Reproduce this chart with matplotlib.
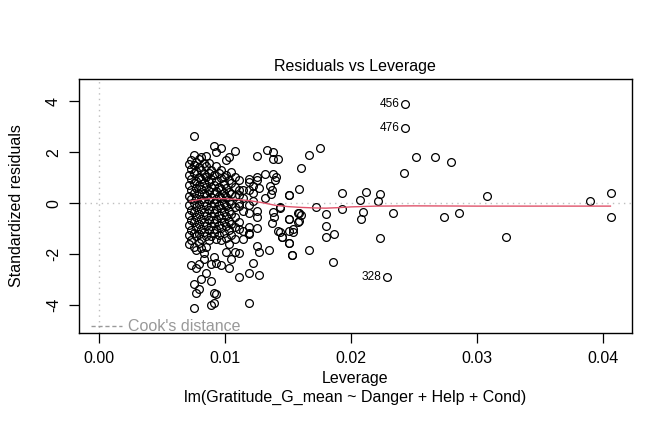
import numpy as np
import matplotlib
matplotlib.use("Agg")
import matplotlib.pyplot as plt

plt.rcParams['font.family'] = ['Liberation Sans', 'DejaVu Sans']

# ---- data ----
# dense leverage columns: (leverage, [standardized residuals])
col_lev = [0.0071, 0.0073, 0.0075, 0.0077, 0.0079, 0.0081, 0.0083, 0.0085,
           0.0087, 0.0089, 0.0091, 0.0093, 0.0095, 0.0097, 0.0099, 0.0101,
           0.0103, 0.0105, 0.0108, 0.0111, 0.0114, 0.0119, 0.0122, 0.0125,
           0.0127]
col_res = [
    [1.55, 1.10, 0.70, 0.30, -0.05, -0.45, -0.85, -1.25, -1.61],
    [1.70, 1.35, 0.95, 0.52, 0.15, -0.25, -0.65, -1.05, -1.44, -2.40],
    [2.65, 1.89, 1.50, 1.18, 0.80, 0.40, 0.02, -0.35, -0.75, -1.15, -1.70, -3.16, -4.12],
    [1.62, 1.25, 0.88, 0.60, 0.22, -0.15, -0.52, -0.92, -1.30, -1.83, -2.55, -3.53],
    [1.74, 1.42, 1.05, 0.70, 0.35, -0.02, -0.40, -0.80, -1.20, -1.55, -2.37, -3.37],
    [1.80, 1.30, 0.95, 0.55, 0.18, -0.22, -0.60, -1.00, -1.40, -1.76, -2.98],
    [1.60, 1.15, 0.78, 0.42, 0.05, -0.35, -0.72, -1.12, -1.96, -2.20],
    [1.85, 1.45, 1.02, 0.65, 0.28, -0.10, -0.50, -0.90, -1.30, -1.70, -2.75],
    [1.57, 1.20, 0.85, 0.48, 0.12, -0.28, -0.65, -1.05, -1.45],
    [1.31, 0.95, 0.62, 0.25, -0.12, -0.48, -0.88, -1.28, -2.38, -3.05, -4.00],
    [2.26, 1.10, 0.72, 0.38, 0.00, -0.38, -0.78, -1.15, -2.09, -3.53, -3.90],
    [2.00, 1.45, 0.88, 0.50, 0.15, -0.22, -0.60, -1.00, -1.40, -2.33, -3.56],
    [1.20, 0.65, 0.30, -0.08, -0.45, -0.85, -1.25],
    [2.18, 1.31, 0.98, 0.55, 0.20, -0.18, -0.58, -0.95, -1.45, -2.42],
    [1.05, 0.75, 0.40, 0.02, -0.35, -0.75, -1.15],
    [1.70, 1.11, 0.60, 0.25, -0.12, -0.50, -0.90, -1.35, -1.90],
    [1.83, 0.90, 0.45, 0.08, -0.30, -0.70, -1.05, -1.60, -2.55],
    [1.24, 0.78, 0.35, -0.02, -0.42, -0.80, -1.25, -2.20],
    [2.05, 1.04, 0.65, 0.28, -0.15, -0.52, -0.92, -1.40, -1.91],
    [0.91, 0.52, 0.33, 0.00, -0.10, -0.72, -1.02, -1.96, -2.88],
    [0.52, 0.20, -0.30, -1.07, -1.41],
    [0.95, 0.85, 0.52, -0.07, -0.37, -0.92, -1.15, -1.20, -2.75, -3.92],
    [0.68, 0.39, 0.10, -2.35],
    [1.84, 1.04, 0.91, -0.29, -0.52, -0.96, -1.67],
    [-1.91, -2.81, 0.60],
]

# individually read scattered points
sparse_lev = [0.01335, 0.01377, 0.01382, 0.01422, 0.01316, 0.01382, 0.01403, 0.01396,
              0.01356, 0.01369, 0.01364, 0.01316, 0.01372, 0.01388, 0.01382, 0.01435,
              0.01422, 0.01449, 0.01509, 0.01533, 0.01352, 0.01504, 0.01509, 0.01578,
              0.01578, 0.01504,
              0.01755, 0.01668, 0.01602, 0.02515, 0.02669, 0.02423, 0.01586, 0.01507,
              0.01928, 0.02116, 0.02230, 0.02068, 0.02216, 0.01435, 0.01719, 0.01928,
              0.01586, 0.01602, 0.01801, 0.02092, 0.02079, 0.02333, 0.01507, 0.01586,
              0.01536, 0.01536, 0.01449, 0.01435, 0.01507, 0.01801, 0.01801, 0.01867,
              0.02230, 0.01668, 0.01531, 0.01859,
              0.02791, 0.02738, 0.02860, 0.03082, 0.03233, 0.03898, 0.04062, 0.04062]
sparse_res = [2.10, 2.02, 1.72, 1.75, 1.14, 1.14, 1.04, 0.91,
              0.68, 0.52, 0.36, 0.20, -0.78, -0.55, -0.33, -0.20,
              -1.07, -1.33, -1.54, -2.03, -1.83, -0.63, -1.07, -0.37,
              -0.72, 0.33,
              2.17, 1.89, 1.40, 1.80, 1.83, 1.20, 0.55, 0.31,
              0.40, 0.44, 0.36, 0.12, 0.10, -0.16, -0.16, -0.21,
              -0.37, -0.45, -0.41, -0.34, -0.60, -0.37, -0.60, -0.68,
              -1.00, -1.13, -1.31, -1.11, -1.54, -0.90, -1.32, -1.20,
              -1.36, -1.83, -2.04, -2.30,
              1.62, -0.54, -0.38, 0.29, -1.33, 0.09, 0.39, -0.54]

# labelled extreme points
id_labels = ["456", "476", "328"]
id_lev = [0.02426, 0.02426, 0.02283]
id_res = [3.89, 2.95, -2.88]

# smoother (red line)
smooth_lev = [0.0072, 0.0080, 0.0090, 0.0100, 0.0110, 0.0120, 0.0130, 0.0140,
              0.0150, 0.0160, 0.0170, 0.0180, 0.0190, 0.0200, 0.0220, 0.0250,
              0.0300, 0.0350, 0.0406]
smooth_res = [0.08, 0.15, 0.19, 0.18, 0.15, 0.10, 0.02, -0.08,
              -0.13, -0.16, -0.18, -0.19, -0.17, -0.14, -0.11, -0.10,
              -0.11, -0.11, -0.11]

x_ticks = [0.00, 0.01, 0.02, 0.03, 0.04]
x_tick_labels = ["0.00", "0.01", "0.02", "0.03", "0.04"]
y_ticks = [-4, -2, 0, 2, 4]

# ---- assemble ----
lev_all, res_all = [], []
for lv, rs in zip(col_lev, col_res):
    lev_all += [lv] * len(rs)
    res_all += rs
lev_all += sparse_lev + id_lev
res_all += sparse_res + id_res

FS = 11.5
W, H = 672, 432
fig = plt.figure(figsize=(W / 100, H / 100), dpi=100)
L, R, T, B = 79, 631.7, 79, 333.3
ax = fig.add_axes([L / W, 1 - B / H, (R - L) / W, (B - T) / H])

ax.axhline(0, color='#BEBEBE', lw=1, ls=(0, (1, 3)), zorder=1)
ax.axvline(0, color='#BEBEBE', lw=1, ls=(0, (1, 3)), zorder=1)

ax.plot(lev_all, res_all, 'o', mfc='none', mec='black', ms=5.6, mew=0.9, zorder=3)
ax.plot(smooth_lev, smooth_res, color='#DF536B', lw=1, zorder=4)

for lab, lv, rs in zip(id_labels, id_lev, id_res):
    ax.annotate(lab, (lv, rs), xytext=(-4, 0), textcoords='offset points',
                ha='right', va='center', fontsize=8.6)

ax.set_xlim(-0.00161, 0.04229)
ax.set_ylim(-5.098, 4.875)
ax.set_xticks(x_ticks)
ax.set_xticklabels(x_tick_labels)
ax.set_yticks(y_ticks)
ax.set_yticklabels([str(v) for v in y_ticks], rotation=90, va='center')
ax.tick_params(direction='out', length=7, width=0.9, labelsize=FS, pad=6)
for s in ax.spines.values():
    s.set_linewidth(1)

# Cook's distance legend (bottom-left, no box)
ax.legend(handles=[plt.Line2D([], [], color='#999999', ls=(0, (3, 2)), lw=1)],
          labels=["Cook's distance"], loc='lower left', frameon=False,
          fontsize=FS, labelcolor='#999999', handlelength=1.9,
          bbox_to_anchor=(0.018, -0.014), borderaxespad=0.0,
          handletextpad=0.4, borderpad=0.15)

fig.text((L + R) / 2 / W, 1 - 67 / H, "Residuals vs Leverage", ha='center', va='center', fontsize=FS)
fig.text((L + R) / 2 / W, 1 - 379 / H, "Leverage", ha='center', va='center', fontsize=FS)
fig.text((L + R) / 2 / W, 1 - 397 / H, "lm(Gratitude_G_mean ~ Danger + Help + Cond)",
         ha='center', va='center', fontsize=FS)
fig.text(17 / W, 1 - 206 / H, "Standardized residuals", ha='center', va='center',
         rotation=90, fontsize=FS)

fig.savefig("out.png", dpi=100)
